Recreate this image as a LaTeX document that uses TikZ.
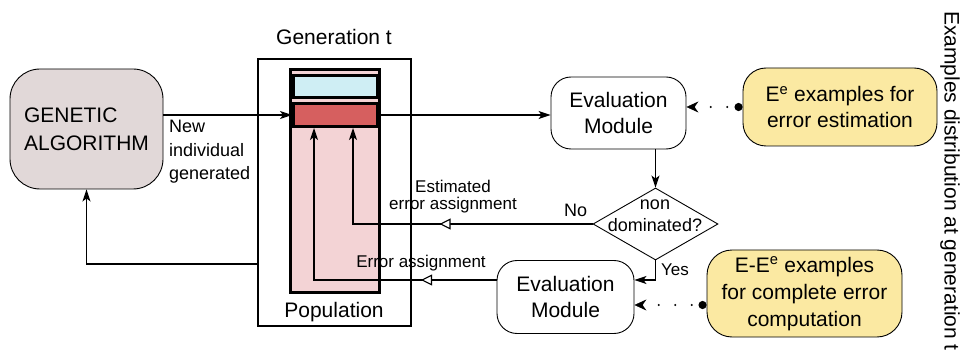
\documentclass[tikz,border=0pt]{standalone}
\usepackage{fontspec}
\setmainfont{Liberation Sans}
\usetikzlibrary{arrows.meta,shapes.geometric,decorations.markings,calc}
\definecolor{gafill}{HTML}{E1D8D8}
\definecolor{popfill}{HTML}{F3D3D5}
\definecolor{bluefill}{HTML}{CFEEF4}
\definecolor{redfill}{HTML}{D65F5F}
\definecolor{yelfill}{HTML}{FBE9A2}
\begin{document}
\begin{tikzpicture}[x=1pt,y=-1pt,
  thinbox/.style={draw, line width=0.9pt, inner sep=0pt},
  big/.style={font=\fontsize{21}{26}\selectfont, align=center},
  lab/.style={font=\fontsize{17}{17}\selectfont, align=center, inner sep=0pt},
  arr/.style={line width=1.2pt, -{Stealth[length=12pt,width=8pt,inset=3pt]}},
  tripos/.style={postaction={decorate}, decoration={markings,
     mark=at position #1 with {\arrow{Triangle[fill=white,length=11pt,width=11pt,line width=1.1pt]}}}},
  dots/.style={line width=2.4pt, line cap=round, dash pattern=on 0pt off 16.5pt,
     {Stealth[length=12pt,width=11pt,inset=4pt,line width=0.5pt]}-{Circle[length=8pt]}}
]
\useasboundingbox (0,0) rectangle (972,358);

% Genetic algorithm
\node[thinbox, fill=gafill, rounded corners=30pt, minimum width=153pt, minimum height=120pt,
      font=\fontsize{21}{28}\selectfont, align=left] (ga) at (86.5,129) {GENETIC\\ALGORITHM};

% Generation t
\node[draw, line width=2pt, minimum width=153pt, minimum height=266.5pt, inner sep=0pt] (gen) at (334.5,192.75) {};
\node[big, anchor=base] (gtitle) at (334,45) {Generation t};
\node[draw, line width=3pt, fill=popfill, minimum width=89.5pt, minimum height=223pt, inner sep=0pt] (pop) at (334.75,181) {};
\node[draw, line width=3pt, fill=bluefill, minimum width=84pt, minimum height=22pt, inner sep=0pt] (blue) at (335.5,86.5) {};
\node[draw, line width=3pt, fill=redfill, minimum width=84pt, minimum height=23pt, inner sep=0pt] (red) at (335.5,115) {};
\node[big, anchor=base] (poplab) at (334,317) {Population};

% Evaluation modules
\node[thinbox, rounded corners=20pt, minimum width=135pt, minimum height=72pt, big] (ev1) at (618.5,113) {Evaluation\\Module};
\node[thinbox, rounded corners=20pt, minimum width=137pt, minimum height=73pt, big] (ev2) at (565.5,297) {Evaluation\\Module};

% Decision
\node[diamond, draw, line width=0.9pt, minimum width=125pt, minimum height=72pt, inner sep=0pt] (nd) at (655.5,224) {};
\node[font=\fontsize{18}{22}\selectfont, align=center, inner sep=0pt] (ndtext) at (655,216) {non\\dominated?};

% Example sets
\node[thinbox, fill=yelfill, rounded corners=23pt, minimum width=194pt, minimum height=78pt, big] (y1) at (840,107)
  {E\textsuperscript{e} examples for\\error estimation};
\node[thinbox, fill=yelfill, rounded corners=25pt, minimum width=195pt, minimum height=87pt,
      font=\fontsize{21}{27}\selectfont, align=center] (y2) at (804.5,293.5)
  {E-E\textsuperscript{e} examples\\for complete error\\computation};
\coordinate (y2in) at ([yshift=-11.5pt]y2.west);

% Side caption
\node[big, rotate=-90] (side) at (950,181) {Examples distribution at generation t};

% Labels
\node[font=\fontsize{18}{23.5}\selectfont, align=left, inner sep=0pt, anchor=north west] (newlab) at (169,120) {New\\individual\\generated};
\node[lab] (estlab) at (453,197) {Estimated\\error assignment};
\node[font=\fontsize{18}{18}\selectfont, anchor=base west, inner sep=0pt] (nolab) at (564,217) {No};
\node[lab, anchor=base] (errlab) at (421,267) {Error assignment};
\node[lab, anchor=base west] (yeslab) at (661,275) {Yes};

% Connectors
\draw[arr] (ga.east |- red.west) -- (red.west);
\draw[arr] (red.east) -- (ev1.west |- red.east);
\draw[arr] (nd.north |- ev1.south) -- (nd.north);
\draw[arr, tripos=153pt] (nd.west) -| ([xshift=61pt]red.south west);
\draw[arr] (nd.south) |- ([yshift=17pt]ev2.east);
\draw[arr, tripos=75.5pt] ([yshift=17pt]ev2.west) -| ([xshift=22pt]red.south west);
\draw[arr] ([yshift=-71.25pt]gen.west) -| (ga.south);
\draw[dots] (ev1.east |- y1.west) -- (y1.west);
\draw[dots] (ev2.east |- y2in) -- (y2in);
\end{tikzpicture}
\end{document}
